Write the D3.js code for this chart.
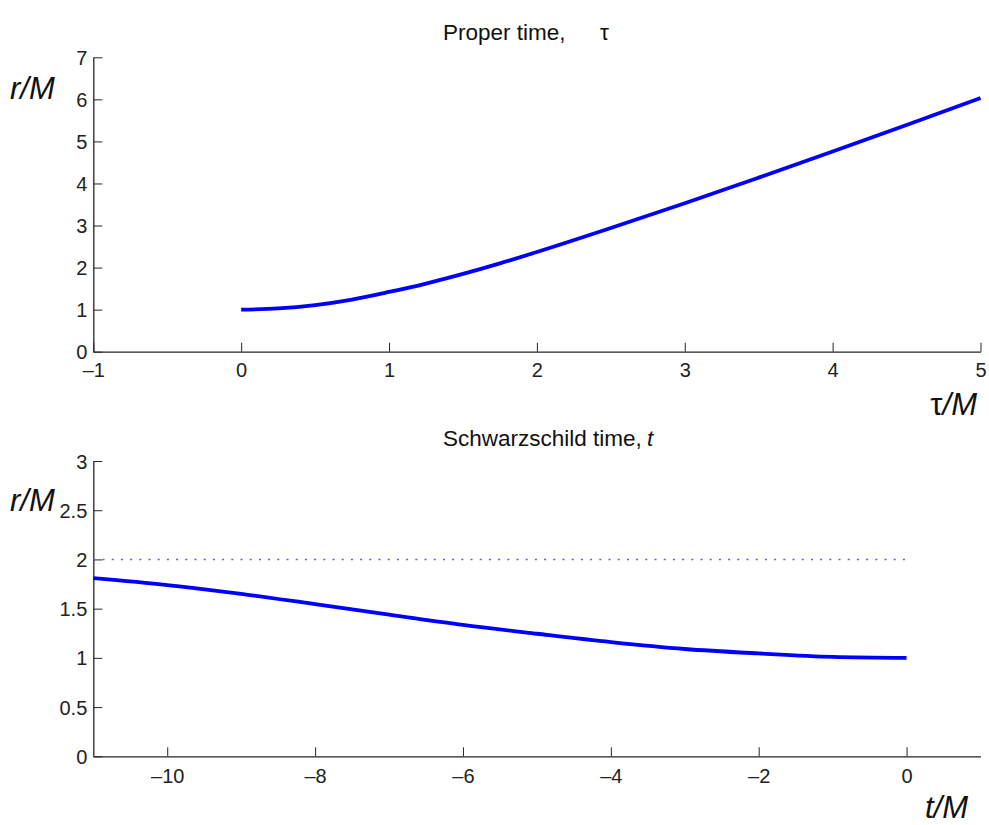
<!DOCTYPE html>
<html>
<head>
<meta charset="utf-8">
<script src="https://cdn.jsdelivr.net/npm/d3@7"></script>
<style>
  html, body { margin: 0; padding: 0; background: #fff; }
  svg { display: block; font-family: "Liberation Sans", Arial, Helvetica, sans-serif; }
</style>
</head>
<body>
<svg id="chart" width="989" height="825"></svg>
<script>
// Radial coordinate r/M against proper time (top panel)
const tauValues = [0, 0.25, 0.5, 0.75, 1.0, 1.25, 1.5, 1.75, 2.0, 2.5, 3.0, 3.5, 4.0, 4.5, 5.0];
const rTau      = [1.00, 1.03, 1.11, 1.24, 1.42, 1.62, 1.85, 2.10, 2.37, 2.94, 3.53, 4.14, 4.76, 5.39, 6.03];

// Radial coordinate r/M against Schwarzschild time (bottom panel)
const tValues = [-11, -10, -9, -8, -7, -6, -5, -4, -3, -2, -1, 0];
const rT      = [1.81, 1.74, 1.65, 1.545, 1.44, 1.335, 1.245, 1.16, 1.09, 1.045, 1.01, 1.00];

// Horizon r = 2M, drawn as a dotted reference line over the t range
const horizonR = 2;
const horizonT = [-11, 0];

// Tick values
const topXTicks = [-1, 0, 1, 2, 3, 4, 5];
const topYTicks = [0, 1, 2, 3, 4, 5, 6, 7];
const botXTicks = [-10, -8, -6, -4, -2, 0];
const botYTicks = [0, 0.5, 1, 1.5, 2, 2.5, 3];

const svg = d3.select("#chart");
const axisColor = "#262626";
const lineColor = "#0000ff";
const fmt = v => (v < 0 ? "\u2013" + Math.abs(v) : String(v));

function panel(opts) {
  const x = d3.scaleLinear().domain(opts.xDomain).range([93.3, 980.5]);
  const y = d3.scaleLinear().domain(opts.yDomain).range(opts.yRange);
  const g = svg.append("g");

  // x axis with inward ticks
  const xa = g.append("g").attr("transform", `translate(0,${opts.yRange[0]})`)
    .call(d3.axisBottom(x).tickValues(opts.xTicks).tickSizeInner(-9).tickSizeOuter(0).tickFormat(fmt));
  xa.attr("font-family", null);
  xa.select(".domain").attr("stroke", axisColor).attr("stroke-width", 1.3);
  xa.selectAll(".tick line").attr("stroke", axisColor).attr("stroke-width", 1);
  xa.selectAll(".tick text").attr("y", opts.xLabelOffset).attr("dy", "0.71em")
    .attr("fill", "#222").attr("font-size", 20);

  // y axis with inward ticks
  const ya = g.append("g").attr("transform", `translate(93.3,0)`)
    .call(d3.axisLeft(y).tickValues(opts.yTicks).tickSizeInner(-9).tickSizeOuter(0).tickFormat(d3.format("")));
  ya.attr("font-family", null);
  ya.select(".domain").attr("stroke", axisColor).attr("stroke-width", 1.3);
  ya.selectAll(".tick line").attr("stroke", axisColor).attr("stroke-width", 1);
  ya.selectAll(".tick text").attr("x", -6).attr("dy", "0.35em")
    .attr("fill", "#222").attr("font-size", 20);

  return { g, x, y };
}

// ---- Top panel: proper time ----
const properPanel = panel({
  xDomain: [-1, 5], yDomain: [0, 7], yRange: [351.7, 57.3],
  xTicks: topXTicks, yTicks: topYTicks, xLabelOffset: 11
});
properPanel.g.append("path")
  .datum(d3.zip(tauValues, rTau))
  .attr("fill", "none").attr("stroke", lineColor).attr("stroke-width", 3.8)
  .attr("d", d3.line().x(d => properPanel.x(d[0])).y(d => properPanel.y(d[1])).curve(d3.curveMonotoneX));

properPanel.g.append("text").attr("y", 40)
  .attr("font-size", 22.5).attr("fill", "#111")
  .call(t => {
    t.append("tspan").attr("x", 443).text("Proper time,");
    t.append("tspan").attr("x", 600).text("\u03C4");
  });
properPanel.g.append("text").attr("x", 10).attr("y", 99)
  .attr("font-size", 31).attr("font-style", "italic").attr("fill", "#111").text("r/M");
properPanel.g.append("text").attr("x", 977).attr("y", 415).attr("text-anchor", "end")
  .attr("font-size", 31).attr("fill", "#111")
  .call(t => {
    t.append("tspan").text("\u03C4");
    t.append("tspan").attr("font-style", "italic").text("/M");
  });

// ---- Bottom panel: Schwarzschild time ----
const schwPanel = panel({
  xDomain: [-11, 1], yDomain: [0, 3], yRange: [756.3, 461],
  xTicks: botXTicks, yTicks: botYTicks, xLabelOffset: 13
});
schwPanel.g.append("line")
  .attr("x1", schwPanel.x(horizonT[0])).attr("x2", schwPanel.x(horizonT[1]))
  .attr("y1", schwPanel.y(horizonR)).attr("y2", schwPanel.y(horizonR))
  .attr("stroke", "#5a5aff").attr("stroke-width", 1.6).attr("stroke-dasharray", "2 7.2");
schwPanel.g.append("path")
  .datum(d3.zip(tValues, rT))
  .attr("fill", "none").attr("stroke", lineColor).attr("stroke-width", 3.8)
  .attr("d", d3.line().x(d => schwPanel.x(d[0])).y(d => schwPanel.y(d[1])).curve(d3.curveMonotoneX));

schwPanel.g.append("text").attr("y", 446)
  .attr("font-size", 22.5).attr("fill", "#111")
  .call(t => {
    t.append("tspan").attr("x", 443).text("Schwarzschild time,");
    t.append("tspan").attr("x", 647).attr("font-style", "italic").text("t");
  });
schwPanel.g.append("text").attr("x", 10).attr("y", 511)
  .attr("font-size", 31).attr("font-style", "italic").attr("fill", "#111").text("r/M");
schwPanel.g.append("text").attr("x", 968).attr("y", 818).attr("text-anchor", "end")
  .attr("font-size", 31).attr("font-style", "italic").attr("fill", "#111").text("t/M");
</script>
</body>
</html>
